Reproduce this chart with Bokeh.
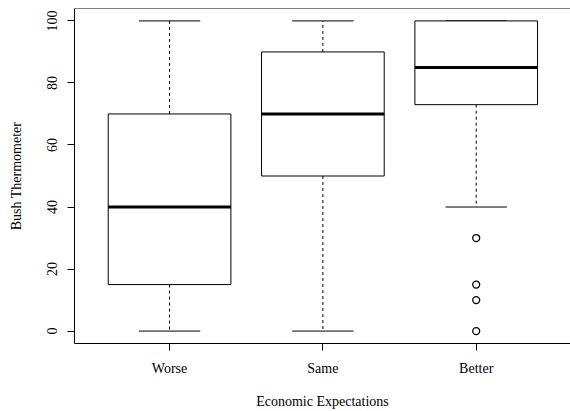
from bokeh.plotting import figure
from bokeh.models import Range1d, FixedTicker, Span
from bokeh.embed import file_html
from bokeh.resources import INLINE

# Box-plot summary of the Bush thermometer by economic expectation
groups = ["Worse", "Same", "Better"]
positions = [1, 2, 3]
lower_whisker = [0, 0, 40]
q1 = [15, 50, 73]
median = [40, 70, 85]
q3 = [70, 90, 100]
upper_whisker = [100, 100, 100]

# Points beyond the whiskers
outlier_pos = [3, 3, 3, 3]
outlier_values = [30, 15, 10, 0]

y_ticks = [0, 20, 40, 60, 80, 100]

x_title = "Economic Expectations"
y_title = "Bush Thermometer"

BOX_HALF = 0.4
CAP_HALF = 0.2
FONT = "Liberation Serif"

p = figure(width=570, height=411, output_backend="svg", toolbar_location=None,
           x_range=Range1d(0.38, 3.615), y_range=Range1d(-4, 104),
           min_border_left=74, min_border_right=0, min_border_top=8,
           min_border_bottom=68)

p.outline_line_color = None
p.xgrid.visible = False
p.ygrid.visible = False
p.background_fill_color = "white"
p.border_fill_color = "white"

left = [x - BOX_HALF for x in positions]
right = [x + BOX_HALF for x in positions]
cap_l = [x - CAP_HALF for x in positions]
cap_r = [x + CAP_HALF for x in positions]

# dashed whiskers
p.segment(x0=positions, x1=positions, y0=q3, y1=upper_whisker,
          line_color="black", line_width=1, line_dash="3 3")
p.segment(x0=positions, x1=positions, y0=q1, y1=lower_whisker,
          line_color="black", line_width=1, line_dash="3 3")
# whisker caps
p.segment(x0=cap_l, x1=cap_r, y0=upper_whisker, y1=upper_whisker,
          line_color="black", line_width=1)
p.segment(x0=cap_l, x1=cap_r, y0=lower_whisker, y1=lower_whisker,
          line_color="black", line_width=1)
# boxes
p.quad(left=left, right=right, bottom=q1, top=q3,
       fill_color="white", line_color="black", line_width=1)
# medians
p.segment(x0=left, x1=right, y0=median, y1=median,
          line_color="black", line_width=3)
# outliers
p.scatter(x=outlier_pos, y=outlier_values, marker="circle", size=7,
          fill_color=None, line_color="black", line_width=1.3)

# top edge of the frame
p.add_layout(Span(location=104, dimension="width", line_color="black",
                  line_width=1))

p.xaxis.ticker = FixedTicker(ticks=positions)
p.xaxis.major_label_overrides = {x: g for x, g in zip(positions, groups)}
p.yaxis.ticker = FixedTicker(ticks=y_ticks)
p.yaxis.major_label_orientation = "vertical"

p.xaxis.axis_label = x_title
p.yaxis.axis_label = y_title

for ax in (p.xaxis, p.yaxis):
    ax.axis_line_color = "black"
    ax.axis_line_width = 1
    ax.major_tick_line_color = "black"
    ax.major_tick_in = 0
    ax.major_tick_out = 7
    ax.minor_tick_line_color = None
    ax.major_label_text_font = FONT
    ax.major_label_text_font_size = "14px"
    ax.major_label_text_color = "black"
    ax.axis_label_text_font = FONT
    ax.axis_label_text_font_size = "14px"
    ax.axis_label_text_font_style = "normal"
    ax.axis_label_text_color = "black"

p.xaxis.major_label_standoff = 10
p.xaxis.axis_label_standoff = 15
p.yaxis.major_label_standoff = 10
p.yaxis.axis_label_standoff = 21

open("out.html", "w").write(file_html(p, INLINE))
